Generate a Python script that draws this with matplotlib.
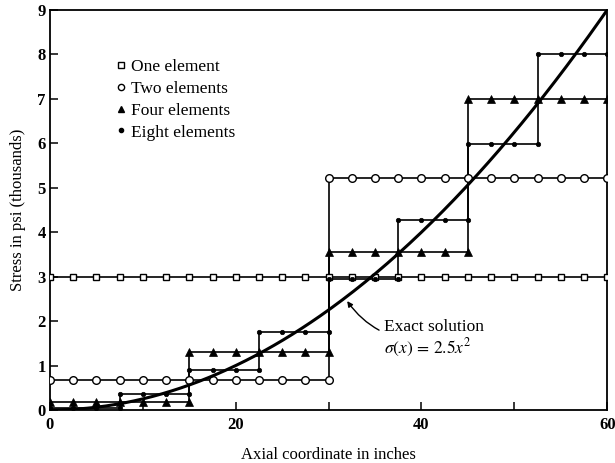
import numpy as np
import matplotlib
matplotlib.use("Agg")
import matplotlib.pyplot as plt
from matplotlib.lines import Line2D

plt.rcParams['font.family'] = ['Liberation Serif', 'DejaVu Serif']
plt.rcParams['mathtext.fontset'] = 'stix'

# ---- data (stress in thousands of psi) ----
edges_one = [0, 60]
vals_one = [3.0]
edges_two = [0, 30, 60]
vals_two = [0.68, 5.22]
edges_four = [0, 15, 30, 45, 60]
vals_four = [0.17, 1.30, 3.56, 7.00]
edges_eight = [0, 7.5, 15, 22.5, 30, 37.5, 45, 52.5, 60]
vals_eight = [0.05, 0.36, 0.90, 1.76, 2.95, 4.27, 5.98, 8.00]
exact_coef = 2.5  # sigma(x) = 2.5 x^2 psi

x_ticks = [0, 20, 40, 60]
x_minor = [10, 30, 50]
y_ticks = list(range(0, 10))

fig = plt.figure(figsize=(6.15, 4.63), dpi=100)
ax = fig.add_axes([0.0813, 0.1145, 0.906, 0.864])


def step_xy(edges, vals):
    xs, ys = [], []
    for i, v in enumerate(vals):
        xs += [edges[i], edges[i + 1]]
        ys += [v, v]
    return xs, ys


def marker_xy(edges, vals, step=2.5):
    xs, ys = [], []
    for i, v in enumerate(vals):
        m = np.arange(edges[i], edges[i + 1] + 1e-9, step)
        xs += list(m)
        ys += [v] * len(m)
    return xs, ys


lw = 1.2
series = [
    (edges_one, vals_one, dict(marker='s', ms=5, mfc='white', mec='black', mew=1.0)),
    (edges_two, vals_two, dict(marker='o', ms=5.5, mfc='white', mec='black', mew=1.0)),
    (edges_four, vals_four, dict(marker='^', ms=5.5, mfc='black', mec='black', mew=0.5)),
    (edges_eight, vals_eight, dict(marker='o', ms=3.2, mfc='black', mec='black', mew=0.5)),
]
for edges, vals, mk in series:
    sx, sy = step_xy(edges, vals)
    ax.plot(sx, sy, color='black', lw=lw, zorder=2)
    mx, my = marker_xy(edges, vals)
    ax.plot(mx, my, linestyle='none', zorder=3, **mk)

# exact solution
xe = np.linspace(0, 60, 300)
ye = exact_coef * xe ** 2 / 1000.0
ax.plot(xe, ye, color='black', lw=2.2, zorder=4)

ax.set_xlim(0, 60)
ax.set_ylim(0, 9)
ax.set_xticks(x_ticks)
ax.set_xticks(x_minor, minor=True)
ax.set_yticks(y_ticks)
ax.tick_params(axis='both', which='both', direction='in', length=6, width=1.1,
               top=False, right=False)
for lab in ax.get_xticklabels() + ax.get_yticklabels():
    lab.set_fontweight('bold')
    lab.set_fontsize(12)
ax.tick_params(axis='x', pad=5)
ax.tick_params(axis='y', pad=3)
for s in ax.spines.values():
    s.set_linewidth(1.3)

ax.set_xlabel('Axial coordinate in inches', fontsize=12, labelpad=10)
ax.set_ylabel('Stress in psi (thousands)', fontsize=12, labelpad=8)

# legend
handles = [
    Line2D([], [], linestyle='none', marker='s', ms=4.5, mfc='white', mec='black', mew=1.0),
    Line2D([], [], linestyle='none', marker='o', ms=4.5, mfc='white', mec='black', mew=1.0),
    Line2D([], [], linestyle='none', marker='^', ms=5, mfc='black', mec='black'),
    Line2D([], [], linestyle='none', marker='o', ms=3, mfc='black', mec='black'),
]
labels = ['One element', 'Two elements', 'Four elements', 'Eight elements']
ax.legend(handles, labels, loc='upper left', bbox_to_anchor=(0.118, 0.878),
          frameon=False, fontsize=12.5, handlelength=0.6, handletextpad=0.3,
          labelspacing=0.33, borderpad=0, borderaxespad=0)

# annotation
ax.annotate('Exact solution\n$\\sigma(x)\\,=\\,2.5x^2$', xy=(32.0, 2.45), xytext=(36.0, 1.6),
            fontsize=12.5, ha='left', va='center', linespacing=1.15,
            arrowprops=dict(arrowstyle='-|>', color='black', lw=1.0,
                            connectionstyle='arc3,rad=-0.3', shrinkA=2, shrinkB=0,
                            mutation_scale=8))

fig.savefig('out.png', dpi=100)
